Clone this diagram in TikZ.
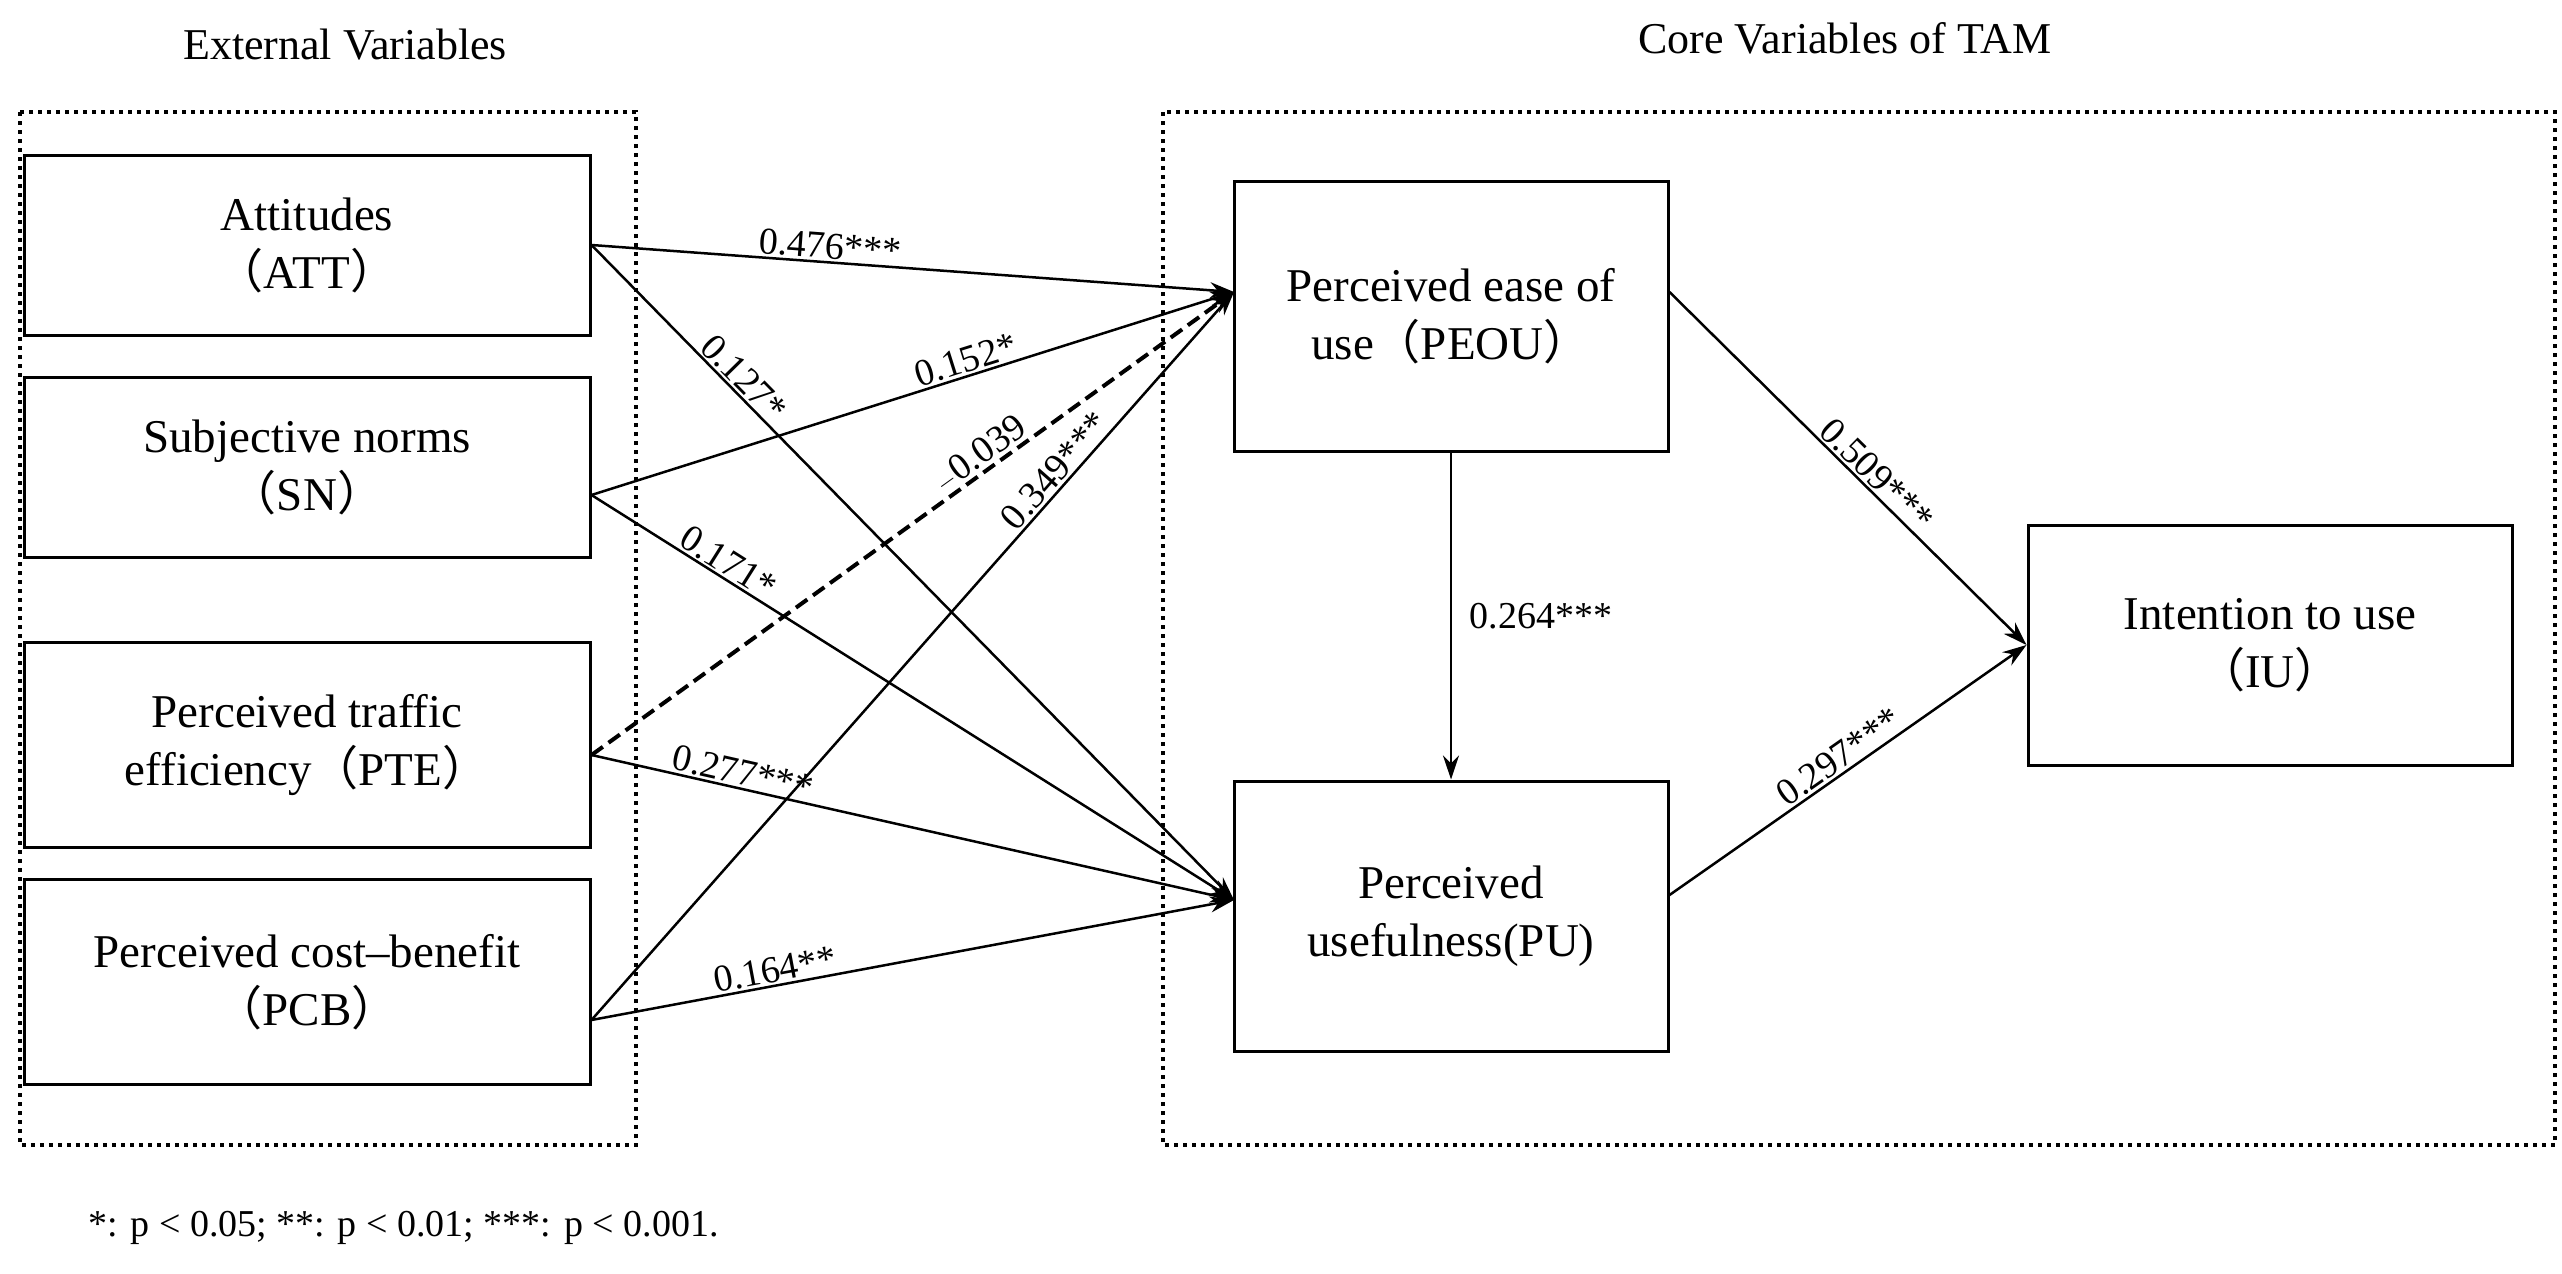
\documentclass[tikz,border=0pt]{standalone}
\usepackage{fontspec}
\setmainfont{Liberation Serif}
\newfontfamily\cjk{Noto Sans CJK SC}
\newcommand{\lp}{{\cjk （}}
\newcommand{\rp}{{\cjk ）}}
\usetikzlibrary{arrows.meta}
\begin{document}
\begin{tikzpicture}[x=1pt,y=-1pt,
  box/.style={draw,line width=3pt,inner sep=0pt,align=center,font=\fontsize{47}{58}\selectfont},
  group/.style={draw,line width=4pt,dash pattern=on 4pt off 5pt},
  arr/.style={line width=2.5pt,-{Stealth[length=24pt,width=16pt]}},
  lab/.style={font=\fontsize{38}{44}\selectfont,sloped,above,inner sep=2pt}]
\useasboundingbox (0,0) rectangle (2562,1274);
\fill[white] (0,0) rectangle (2562,1274);
\node[font=\fontsize{44}{50}\selectfont] (t1) at (345,45) {External Variables};
\node[font=\fontsize{44}{50}\selectfont] (t2) at (1845,38) {Core Variables of TAM};
\draw[group] (20,112) rectangle (636,1145);
\draw[group] (1163,112) rectangle (2555,1145);
\node[box,minimum width=566pt,minimum height=180pt] (att) at (307,245) {Attitudes\\\lp ATT\rp};
\node[box,minimum width=566pt,minimum height=180pt] (sn) at (307,467) {Subjective norms\\\lp SN\rp};
\node[box,minimum width=566pt,minimum height=205pt] (pte) at (307,745) {Perceived traffic\\efficiency\lp PTE\rp};
\node[box,minimum width=566pt,minimum height=205pt] (pcb) at (307,982) {Perceived cost–benefit\\\lp PCB\rp};
\node[box,minimum width=434pt,minimum height=270pt] (peou) at (1451,316) {Perceived ease of\\use\lp PEOU\rp};
\node[box,minimum width=434pt,minimum height=270pt] (pu) at (1451,916) {Perceived\\usefulness(PU)};
\node[box,minimum width=484pt,minimum height=240pt] (iu) at (2270,645) {Intention to use\\\lp IU\rp};
\coordinate (pin) at (1234,292);
\coordinate (uin) at (1234,900);
\draw[arr] (att.east|-0,245) -- (pin) node[lab,pos=0.37] {0.476***};
\draw[arr] (att.east|-0,245) -- (uin) node[lab,pos=0.22] {0.127*};
\draw[arr] (sn.east|-0,495) -- (pin) node[lab,pos=0.59] {0.152*};
\draw[arr] (sn.east|-0,495) -- (uin) node[lab,pos=0.2] {0.171*};
\draw[arr,line width=4pt,dash pattern=on 14pt off 7pt] (pte.east|-0,755) -- (pin) node[lab,pos=0.62] {$-$0.039};
\draw[arr] (pte.east|-0,755) -- (uin) node[lab,pos=0.23] {0.277***};
\draw[arr] (pcb.east|-0,1020) -- (pin) node[lab,pos=0.74] {0.349***};
\draw[arr] (pcb.east|-0,1020) -- (uin) node[lab,pos=0.29] {0.164**};
\draw[arr] (peou) -- (pu) node[font=\fontsize{38}{44}\selectfont,midway,right=14pt] {0.264***};
\draw[arr] (peou.east|-0,292) -- (iu.west) node[lab,pos=0.55] {0.509***};
\draw[arr] (pu.east|-0,895) -- (iu.west) node[lab,pos=0.5] {0.297***};
\node[font=\fontsize{38}{44}\selectfont,anchor=west] (fn) at (85,1228) {*: p < 0.05; **: p < 0.01; ***: p < 0.001.};
\end{tikzpicture}
\end{document}
